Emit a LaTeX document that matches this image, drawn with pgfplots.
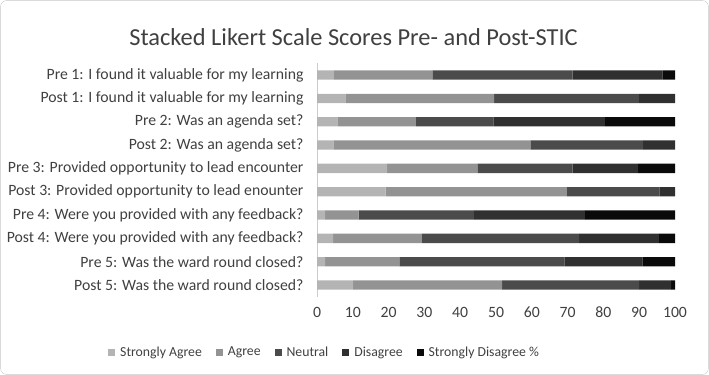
\documentclass[border=0pt]{standalone}
\usepackage{pgfplots}
\pgfplotsset{compat=1.18}
\usepackage{fontspec}
\setmainfont{Carlito}
\definecolor{cSA}{HTML}{B4B4B4}
\definecolor{cA}{HTML}{939393}
\definecolor{cN}{HTML}{4B4B4B}
\definecolor{cD}{HTML}{303030}
\definecolor{cSD}{HTML}{0A0A0A}
\definecolor{txt}{HTML}{404040}
\begin{document}
\begin{tikzpicture}
\useasboundingbox (0bp,0bp) rectangle (709bp,-375bp);
\draw[gray!45, rounded corners=6bp] (0.6bp,-0.6bp) rectangle (708.4bp,-374.4bp);
\node[font=\fontsize{24.5}{28}\selectfont, text=txt] at (353.5bp,-37bp) {Stacked Likert Scale Scores Pre- and Post-STIC};
\begin{axis}[
  at={(317bp,-296.7bp)}, anchor=south west,
  scale only axis, width=358bp, height=233.3bp,
  xbar stacked, bar width=9.3bp,
  xmin=0, xmax=100, ymin=0.5, ymax=10.5, y dir=reverse,
  xtick={0,10,...,100}, ytick={1,...,10},
  yticklabels={{Pre 1: I found it valuable for my learning},{Post 1: I found it valuable for my learning},{Pre 2: Was an agenda set?},{Post 2: Was an agenda set?},{Pre 3: Provided opportunity to lead encounter},{Post 3: Provided opportunity to lead enounter},{Pre 4: Were you provided with any feedback?},{Post 4: Were you provided with any feedback?},{Pre 5: Was the ward round closed?},{Post 5: Was the ward round closed?}},
  axis lines*=left,
  x axis line style={draw=none},
  y axis line style={draw=gray!40},
  major tick length=0pt,
  /pgf/number format/assume math mode=true,
  tick label style={font=\fontsize{15.8}{18}\selectfont, text=txt},
  yticklabel style={xshift=-10bp},
  xticklabel style={yshift=-7bp},
  legend style={at={(-0.592,-0.238)}, anchor=west, draw=none, fill=none,
    font=\fontsize{13.8}{16}\selectfont, text=txt, legend columns=5,
    /tikz/every even column/.append style={column sep=12bp},
    /tikz/every odd column/.append style={column sep=3bp}},
  legend image code/.code={\fill[#1] (0bp,-3.5bp) rectangle (7bp,3.5bp);},
]
\addplot[fill=cSA, draw=none] coordinates {(4.7,1) (7.9,2) (5.7,3) (4.6,4) (19.6,5) (19.2,6) (2.3,7) (4.5,8) (2.3,9) (10.1,10)};
\addplot[fill=cA, draw=none] coordinates {(27.5,1) (41.6,2) (21.9,3) (55.0,4) (25.2,5) (50.6,6) (9.3,7) (24.8,8) (20.7,9) (41.6,10)};
\addplot[fill=cN, draw=none] coordinates {(39.2,1) (40.4,2) (21.7,3) (31.5,4) (26.6,5) (25.8,6) (32.2,7) (43.9,8) (46.1,9) (38.3,10)};
\addplot[fill=cD, draw=none] coordinates {(25.1,1) (10.1,2) (31.1,3) (8.9,4) (18.3,5) (4.4,6) (31.0,7) (22.3,8) (21.8,9) (8.9,10)};
\addplot[fill=cSD, draw=none] coordinates {(3.5,1) (0,2) (19.6,3) (0,4) (10.3,5) (0,6) (25.2,7) (4.5,8) (9.1,9) (1.1,10)};
\legend{Strongly Agree, Agree, Neutral, Disagree, Strongly Disagree \%}
\end{axis}
\end{tikzpicture}
\end{document}
